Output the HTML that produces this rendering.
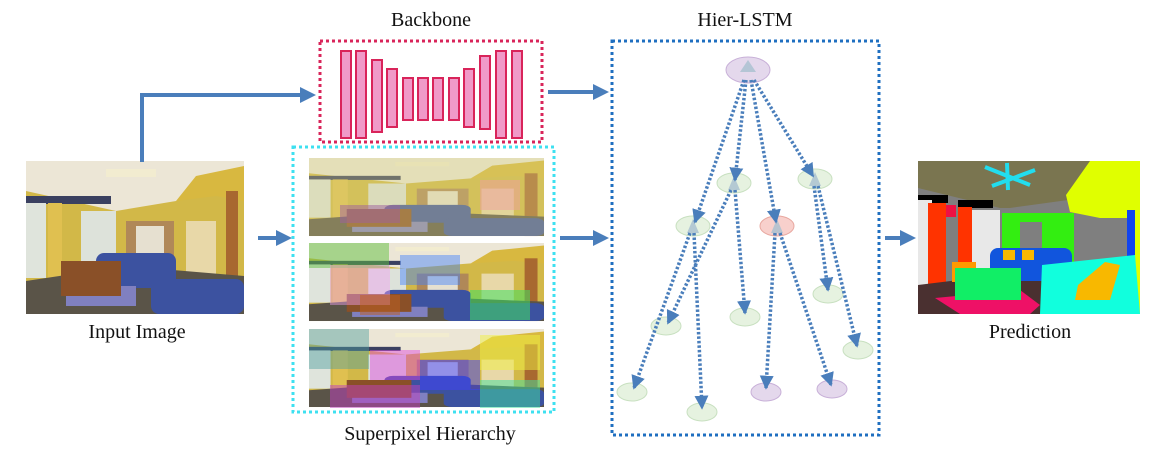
<!DOCTYPE html>
<html><head><meta charset="utf-8"><style>
html,body{margin:0;padding:0;background:#fff;}
svg{display:block;}
text{font-family:"Liberation Serif",serif;font-size:20px;fill:#111;}
</style></head><body>
<svg width="1163" height="452" viewBox="0 0 1163 452" xmlns="http://www.w3.org/2000/svg">
<defs>
<marker id="ah" markerWidth="4" markerHeight="4" refX="3" refY="2" orient="auto" markerUnits="strokeWidth">
<path d="M0,0 L4,2 L0,4 z" fill="#4a7ebb"/></marker>
<marker id="ad" markerWidth="4" markerHeight="4" refX="3.5" refY="2" orient="auto" markerUnits="strokeWidth">
<path d="M0,0 L4,2 L0,4 z" fill="#4a7ebb"/></marker>
<g id="room">
<rect x="0" y="0" width="218" height="153" fill="#d2b848"/>
<polygon points="0,0 218,0 218,10 150,40 90,50 0,30" fill="#ece6d6"/>
<rect x="0" y="35" width="85" height="8" fill="#3a4060"/>
<rect x="0" y="42" width="20" height="75" fill="#dfe4dc"/>
<rect x="22" y="42" width="14" height="85" fill="#e0c050"/>
<rect x="55" y="50" width="35" height="62" fill="#dde2da"/>
<rect x="100" y="60" width="48" height="50" fill="#b08858"/>
<rect x="110" y="65" width="28" height="40" fill="#e6e0d0"/>
<polygon points="150,40 170,15 218,5 218,40 190,35" fill="#d8b840"/>
<rect x="160" y="60" width="30" height="55" fill="#e8d8a8"/>
<rect x="200" y="30" width="12" height="123" fill="#a86830"/>
<polygon points="0,120 100,105 218,115 218,153 0,153" fill="#5a5448"/>
<rect x="70" y="92" width="80" height="35" rx="8" fill="#3c52a0"/>
<rect x="125" y="118" width="93" height="35" rx="8" fill="#3c52a0"/>
<rect x="40" y="125" width="70" height="20" fill="#8080c0"/>
<rect x="35" y="100" width="60" height="35" fill="#8a5028"/>
<rect x="80" y="8" width="50" height="8" fill="#f2ecd0"/>
</g>
</defs>

<!-- Labels -->
<text x="431" y="26" text-anchor="middle">Backbone</text>
<text x="745" y="26" text-anchor="middle">Hier-LSTM</text>
<text x="137" y="338" text-anchor="middle">Input Image</text>
<text x="430" y="440" text-anchor="middle">Superpixel Hierarchy</text>
<text x="1030" y="338" text-anchor="middle">Prediction</text>

<use href="#room" transform="translate(26,161)"/>

<!-- Backbone -->
<rect x="320" y="41" width="222" height="101" fill="none" stroke="#d9245a" stroke-width="3" stroke-dasharray="3,3"/>
<g fill="#f09ac8" stroke="#d9245a" stroke-width="2">
<rect x="341" y="51" width="10" height="87"/>
<rect x="356" y="51" width="10" height="87"/>
<rect x="372" y="60" width="10" height="72"/>
<rect x="387" y="69" width="10" height="58"/>
<rect x="403" y="78" width="10" height="42"/>
<rect x="418" y="78" width="10" height="42"/>
<rect x="433" y="78" width="10" height="42"/>
<rect x="449" y="78" width="10" height="42"/>
<rect x="464" y="69" width="10" height="58"/>
<rect x="480" y="56" width="10" height="73"/>
<rect x="496" y="51" width="10" height="87"/>
<rect x="512" y="51" width="10" height="87"/>
</g>

<!-- Superpixel -->
<rect x="293" y="147" width="261" height="265" fill="none" stroke="#3ee0f0" stroke-width="3" stroke-dasharray="3,3"/>
<g transform="translate(309,158) scale(1.078,0.51)"><use href="#room"/></g>
<rect x="309" y="158" width="235" height="78" fill="#d8d080" opacity="0.35"/>
<rect x="480" y="180" width="40" height="30" fill="#f0a0a0" opacity="0.5"/>
<rect x="340" y="205" width="60" height="18" fill="#a060a0" opacity="0.5"/>
<g transform="translate(309,243) scale(1.078,0.51)"><use href="#room"/></g>
<rect x="309" y="243" width="80" height="25" fill="#60c040" opacity="0.5"/>
<rect x="330" y="265" width="60" height="40" fill="#f0a0f0" opacity="0.45"/>
<rect x="400" y="255" width="60" height="30" fill="#4080ff" opacity="0.45"/>
<rect x="470" y="290" width="60" height="30" fill="#40e060" opacity="0.55"/>
<rect x="360" y="295" width="40" height="20" fill="#c06020" opacity="0.5"/>
<g transform="translate(309,329) scale(1.078,0.51)"><use href="#room"/></g>
<rect x="309" y="329" width="60" height="40" fill="#50a0a0" opacity="0.45"/>
<rect x="370" y="350" width="50" height="30" fill="#e040e0" opacity="0.45"/>
<rect x="420" y="360" width="60" height="30" fill="#4040ff" opacity="0.5"/>
<rect x="480" y="335" width="60" height="35" fill="#f0f040" opacity="0.5"/>
<rect x="330" y="385" width="90" height="23" fill="#c040c0" opacity="0.5"/>
<rect x="480" y="380" width="60" height="28" fill="#40e0a0" opacity="0.5"/>

<!-- Hier-LSTM box -->
<rect x="612" y="41" width="267" height="394" fill="none" stroke="#1f6fc0" stroke-width="3" stroke-dasharray="3,3"/>

<g stroke-width="1">
<ellipse cx="748" cy="70" rx="22" ry="13" fill="#e4d8ec" stroke="#c8b0d8"/>
<ellipse cx="734" cy="183" rx="17" ry="10" fill="#e6f2e0" stroke="#c8e0c0"/>
<ellipse cx="815" cy="179" rx="17" ry="10" fill="#e6f2e0" stroke="#c8e0c0"/>
<ellipse cx="693" cy="226" rx="17" ry="10" fill="#e6f2e0" stroke="#c8e0c0"/>
<ellipse cx="777" cy="226" rx="17" ry="10" fill="#f8d0cc" stroke="#e8a8a0"/>
<ellipse cx="828" cy="294" rx="15" ry="9" fill="#e6f2e0" stroke="#c8e0c0"/>
<ellipse cx="745" cy="317" rx="15" ry="9" fill="#e6f2e0" stroke="#c8e0c0"/>
<ellipse cx="666" cy="326" rx="15" ry="9" fill="#e6f2e0" stroke="#c8e0c0"/>
<ellipse cx="858" cy="350" rx="15" ry="9" fill="#e6f2e0" stroke="#c8e0c0"/>
<ellipse cx="632" cy="392" rx="15" ry="9" fill="#e6f2e0" stroke="#c8e0c0"/>
<ellipse cx="702" cy="412" rx="15" ry="9" fill="#e6f2e0" stroke="#c8e0c0"/>
<ellipse cx="766" cy="392" rx="15" ry="9" fill="#e4d8ec" stroke="#c8b0d8"/>
<ellipse cx="832" cy="389" rx="15" ry="9" fill="#e4d8ec" stroke="#c8b0d8"/>
</g>
<g fill="#a8c0d0" opacity="0.8">
<polygon points="748,60 740,72 756,72"/>
<polygon points="734,176 728,190 740,190"/>
<polygon points="815,172 809,186 821,186"/>
<polygon points="693,219 687,233 699,233"/>
<polygon points="777,219 771,233 783,233"/>
</g>
<g stroke="#4a7ebb" stroke-width="3.5" stroke-dasharray="2.5,2" fill="none" marker-end="url(#ad)">
<line x1="744" y1="80" x2="695" y2="222"/>
<line x1="746" y1="80" x2="735" y2="180"/>
<line x1="751" y1="80" x2="776" y2="222"/>
<line x1="754" y1="80" x2="813" y2="176"/>
<line x1="731" y1="190" x2="668" y2="323"/>
<line x1="735" y1="190" x2="745" y2="313"/>
<line x1="690" y1="233" x2="634" y2="388"/>
<line x1="694" y1="233" x2="702" y2="408"/>
<line x1="775" y1="233" x2="766" y2="388"/>
<line x1="780" y1="233" x2="831" y2="385"/>
<line x1="814" y1="186" x2="828" y2="290"/>
<line x1="818" y1="186" x2="857" y2="346"/>
</g>

<g stroke="#4a7ebb" stroke-width="4" fill="none" marker-end="url(#ah)">
<polyline points="142,162 142,95 312,95"/>
<line x1="258" y1="238" x2="288" y2="238"/>
<line x1="548" y1="92" x2="605" y2="92"/>
<line x1="560" y1="238" x2="605" y2="238"/>
<line x1="885" y1="238" x2="912" y2="238"/>
</g>

<g>
<rect x="918" y="161" width="222" height="153" fill="#7f7f7f"/>
<polygon points="918,161 1090,161 1068,200 1010,208 1000,208 918,188" fill="#7a7550"/>
<rect x="918" y="195" width="30" height="8" fill="#000"/>
<rect x="958" y="200" width="35" height="8" fill="#000"/>
<rect x="918" y="200" width="14" height="85" fill="#e8e8e8"/>
<rect x="928" y="203" width="18" height="85" fill="#ff3300"/>
<rect x="958" y="207" width="14" height="60" fill="#ff3300"/>
<rect x="972" y="210" width="28" height="58" fill="#e8e8e8"/>
<rect x="946" y="205" width="10" height="12" fill="#ee1144"/>
<polygon points="1090,161 1140,161 1140,314 1135,314 1135,218 1100,218 1070,212 1066,195" fill="#e0ff00"/>
<rect x="1127" y="210" width="8" height="50" fill="#1144ee"/>
<rect x="1002" y="213" width="72" height="57" fill="#33ee11"/>
<rect x="1020" y="222" width="22" height="40" fill="#7f7f7f"/>
<polygon points="918,285 1040,270 1060,290 1040,314 918,314" fill="#4a3030"/>
<polygon points="935,298 1020,290 1040,305 1030,314 960,314" fill="#ee1166"/>
<rect x="990" y="248" width="82" height="33" rx="8" fill="#1155dd"/>
<rect x="1003" y="250" width="12" height="10" fill="#f8b800"/>
<rect x="1022" y="250" width="12" height="10" fill="#f8b800"/>
<polygon points="1042,265 1135,255 1140,314 1040,314" fill="#11ffdd"/>
<polygon points="1078,285 1105,262 1120,265 1110,300 1075,300" fill="#f8b800"/>
<rect x="952" y="262" width="24" height="20" fill="#ff9900"/>
<rect x="955" y="268" width="66" height="32" fill="#11ee66"/>
<g stroke="#22ddee" stroke-width="4">
<line x1="1007" y1="163" x2="1008" y2="190"/>
<line x1="985" y1="167" x2="1030" y2="185"/>
<line x1="1035" y1="170" x2="992" y2="186"/>
</g>
</g>
</svg>
</body></html>
